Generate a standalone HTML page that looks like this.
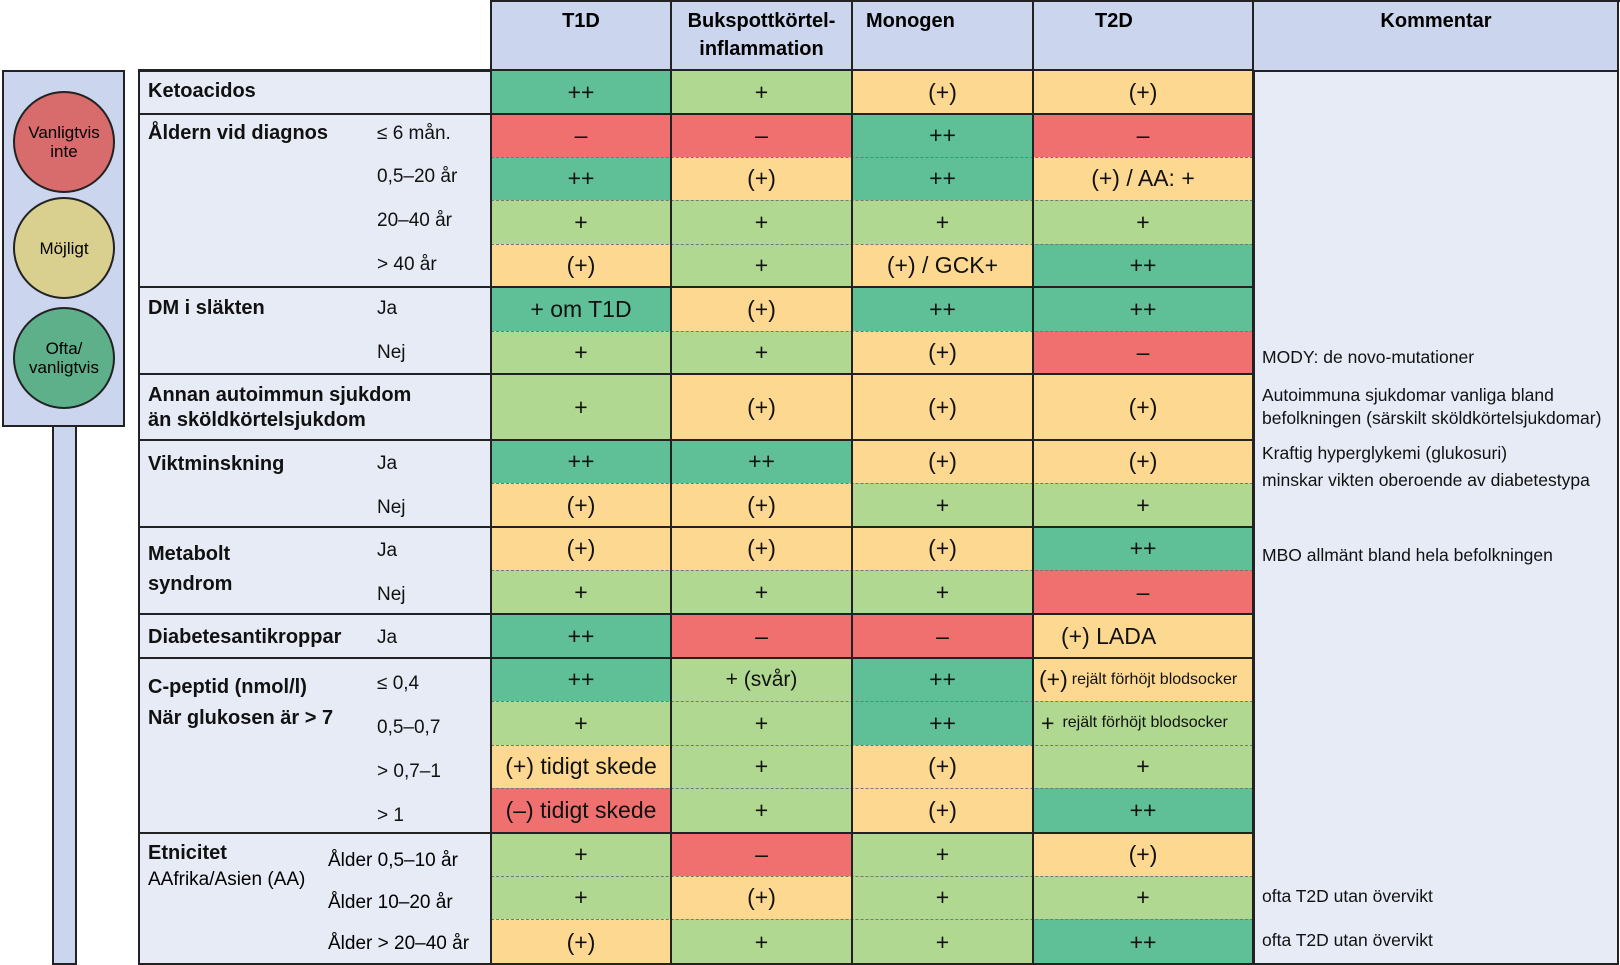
<!DOCTYPE html>
<html><head><meta charset="utf-8"><style>
body{margin:0;width:1620px;height:965px;background:#fff;position:relative;overflow:hidden;font-family:"Liberation Sans",sans-serif;}
div{position:absolute;box-sizing:border-box;}
.h{background:#cbd6ee;font-weight:bold;font-size:20px;text-align:center;line-height:28px;padding-top:6px;}
.c{display:flex;align-items:center;justify-content:center;font-size:23px;color:#111;}
.dg{background:#5fbf96}.lg{background:#b0d890}.y{background:#fdd891}.r{background:#f07070}
.lb{font-weight:bold;font-size:20px;left:148px;color:#111}
.sl{font-size:19px;left:377px;color:#111}
.cm{font-size:17.5px;left:1262px;color:#111;white-space:nowrap}
.sv{border-top:2px solid #222;height:0;}
.dv{border-top:1.5px dashed #777;height:0;}
.vl{width:2px;background:#222;}
.circ{border-radius:50%;border:2px solid #222;width:102px;height:102px;left:13px;display:flex;align-items:center;justify-content:center;text-align:center;font-size:17px;line-height:19px;}
</style></head><body>
<!-- traffic light -->
<div style="left:52px;top:424px;width:25px;height:541px;background:#cbd6ee;border:2px solid #222;"></div>
<div style="left:2px;top:70px;width:123px;height:357px;background:#cbd6ee;border:2px solid #222;"></div>
<div class="circ" style="top:91px;background:#d86b6b">Vanligtvis<br>inte</div>
<div class="circ" style="top:197px;background:#d9cf8e">Möjligt</div>
<div class="circ" style="top:307px;background:#5db08a">Ofta/<br>vanligtvis</div>

<!-- header -->
<div class="h" style="left:491px;top:1px;width:180px;height:70px;">T1D</div>
<div class="h" style="left:671px;top:1px;width:181px;height:70px;">Bukspottkörtel-<br>inflammation</div>
<div class="h" style="left:852px;top:1px;width:181px;height:70px;text-align:left;padding-left:14px">Monogen</div>
<div class="h" style="left:1033px;top:1px;width:220px;height:70px;text-align:left;padding-left:62px">T2D</div>
<div class="h" style="left:1253px;top:1px;width:366px;height:70px;">Kommentar</div>
<div style="left:490px;top:0;width:1130px;height:2px;background:#222"></div>

<!-- label panel & comment panel -->
<div style="left:138px;top:70px;width:354px;height:895px;background:#e6ebf6;border:2px solid #222;"></div>
<div style="left:1253px;top:70px;width:366px;height:895px;background:#e6ebf6;border:2px solid #222;"></div>

<!-- cells -->
<div class="c dg" style="left:491px;top:70px;width:180px;height:44px">++</div>
<div class="c lg" style="left:671px;top:70px;width:181px;height:44px">+</div>
<div class="c y" style="left:852px;top:70px;width:181px;height:44px">(+)</div>
<div class="c y" style="left:1033px;top:70px;width:220px;height:44px">(+)</div>

<div class="c r" style="left:491px;top:114px;width:180px;height:43px">–</div>
<div class="c r" style="left:671px;top:114px;width:181px;height:43px">–</div>
<div class="c dg" style="left:852px;top:114px;width:181px;height:43px">++</div>
<div class="c r" style="left:1033px;top:114px;width:220px;height:43px">–</div>

<div class="c dg" style="left:491px;top:157px;width:180px;height:43px">++</div>
<div class="c y" style="left:671px;top:157px;width:181px;height:43px">(+)</div>
<div class="c dg" style="left:852px;top:157px;width:181px;height:43px">++</div>
<div class="c y" style="left:1033px;top:157px;width:220px;height:43px">(+) / AA: +</div>

<div class="c lg" style="left:491px;top:200px;width:180px;height:44px">+</div>
<div class="c lg" style="left:671px;top:200px;width:181px;height:44px">+</div>
<div class="c lg" style="left:852px;top:200px;width:181px;height:44px">+</div>
<div class="c lg" style="left:1033px;top:200px;width:220px;height:44px">+</div>

<div class="c y" style="left:491px;top:244px;width:180px;height:43px">(+)</div>
<div class="c lg" style="left:671px;top:244px;width:181px;height:43px">+</div>
<div class="c y" style="left:852px;top:244px;width:181px;height:43px">(+) / GCK+</div>
<div class="c dg" style="left:1033px;top:244px;width:220px;height:43px">++</div>

<div class="c dg" style="left:491px;top:287px;width:180px;height:44px">+ om T1D</div>
<div class="c y" style="left:671px;top:287px;width:181px;height:44px">(+)</div>
<div class="c dg" style="left:852px;top:287px;width:181px;height:44px">++</div>
<div class="c dg" style="left:1033px;top:287px;width:220px;height:44px">++</div>

<div class="c lg" style="left:491px;top:331px;width:180px;height:43px">+</div>
<div class="c lg" style="left:671px;top:331px;width:181px;height:43px">+</div>
<div class="c y" style="left:852px;top:331px;width:181px;height:43px">(+)</div>
<div class="c r" style="left:1033px;top:331px;width:220px;height:43px">–</div>

<div class="c lg" style="left:491px;top:374px;width:180px;height:66px">+</div>
<div class="c y" style="left:671px;top:374px;width:181px;height:66px">(+)</div>
<div class="c y" style="left:852px;top:374px;width:181px;height:66px">(+)</div>
<div class="c y" style="left:1033px;top:374px;width:220px;height:66px">(+)</div>

<div class="c dg" style="left:491px;top:440px;width:180px;height:43px">++</div>
<div class="c dg" style="left:671px;top:440px;width:181px;height:43px">++</div>
<div class="c y" style="left:852px;top:440px;width:181px;height:43px">(+)</div>
<div class="c y" style="left:1033px;top:440px;width:220px;height:43px">(+)</div>

<div class="c y" style="left:491px;top:483px;width:180px;height:44px">(+)</div>
<div class="c y" style="left:671px;top:483px;width:181px;height:44px">(+)</div>
<div class="c lg" style="left:852px;top:483px;width:181px;height:44px">+</div>
<div class="c lg" style="left:1033px;top:483px;width:220px;height:44px">+</div>

<div class="c y" style="left:491px;top:527px;width:180px;height:43px">(+)</div>
<div class="c y" style="left:671px;top:527px;width:181px;height:43px">(+)</div>
<div class="c y" style="left:852px;top:527px;width:181px;height:43px">(+)</div>
<div class="c dg" style="left:1033px;top:527px;width:220px;height:43px">++</div>

<div class="c lg" style="left:491px;top:570px;width:180px;height:44px">+</div>
<div class="c lg" style="left:671px;top:570px;width:181px;height:44px">+</div>
<div class="c lg" style="left:852px;top:570px;width:181px;height:44px">+</div>
<div class="c r" style="left:1033px;top:570px;width:220px;height:44px">–</div>

<div class="c dg" style="left:491px;top:614px;width:180px;height:44px">++</div>
<div class="c r" style="left:671px;top:614px;width:181px;height:44px">–</div>
<div class="c r" style="left:852px;top:614px;width:181px;height:44px">–</div>
<div class="c y" style="left:1033px;top:614px;width:220px;height:44px;justify-content:flex-start;padding-left:28px">(+) LADA</div>

<div class="c dg" style="left:491px;top:658px;width:180px;height:43px">++</div>
<div class="c lg" style="left:671px;top:658px;width:181px;height:43px;font-size:21px">+ (svår)</div>
<div class="c dg" style="left:852px;top:658px;width:181px;height:43px">++</div>
<div class="c y" style="left:1033px;top:658px;width:220px;height:43px;justify-content:flex-start;padding-left:6px;white-space:nowrap"><span>(+)</span><span style="font-size:16px;margin-left:4px">rejält förhöjt blodsocker</span></div>

<div class="c lg" style="left:491px;top:701px;width:180px;height:44px">+</div>
<div class="c lg" style="left:671px;top:701px;width:181px;height:44px">+</div>
<div class="c dg" style="left:852px;top:701px;width:181px;height:44px">++</div>
<div class="c lg" style="left:1033px;top:701px;width:220px;height:44px;justify-content:flex-start;padding-left:8px;white-space:nowrap"><span>+</span><span style="font-size:16px;margin-left:8px">rejält förhöjt blodsocker</span></div>

<div class="c y" style="left:491px;top:745px;width:180px;height:43px">(+) tidigt skede</div>
<div class="c lg" style="left:671px;top:745px;width:181px;height:43px">+</div>
<div class="c y" style="left:852px;top:745px;width:181px;height:43px">(+)</div>
<div class="c lg" style="left:1033px;top:745px;width:220px;height:43px">+</div>

<div class="c r" style="left:491px;top:788px;width:180px;height:45px">(–) tidigt skede</div>
<div class="c lg" style="left:671px;top:788px;width:181px;height:45px">+</div>
<div class="c y" style="left:852px;top:788px;width:181px;height:45px">(+)</div>
<div class="c dg" style="left:1033px;top:788px;width:220px;height:45px">++</div>

<div class="c lg" style="left:491px;top:833px;width:180px;height:43px">+</div>
<div class="c r" style="left:671px;top:833px;width:181px;height:43px">–</div>
<div class="c lg" style="left:852px;top:833px;width:181px;height:43px">+</div>
<div class="c y" style="left:1033px;top:833px;width:220px;height:43px">(+)</div>

<div class="c lg" style="left:491px;top:876px;width:180px;height:43px">+</div>
<div class="c y" style="left:671px;top:876px;width:181px;height:43px">(+)</div>
<div class="c lg" style="left:852px;top:876px;width:181px;height:43px">+</div>
<div class="c lg" style="left:1033px;top:876px;width:220px;height:43px">+</div>

<div class="c y" style="left:491px;top:919px;width:180px;height:46px">(+)</div>
<div class="c lg" style="left:671px;top:919px;width:181px;height:46px">+</div>
<div class="c lg" style="left:852px;top:919px;width:181px;height:46px">+</div>
<div class="c dg" style="left:1033px;top:919px;width:220px;height:46px">++</div>

<!-- dashed inner lines -->
<div class="dv" style="left:491px;top:157px;width:762px"></div>
<div class="dv" style="left:491px;top:200px;width:762px"></div>
<div class="dv" style="left:491px;top:244px;width:762px"></div>
<div class="dv" style="left:491px;top:331px;width:762px"></div>
<div class="dv" style="left:491px;top:483px;width:762px"></div>
<div class="dv" style="left:491px;top:570px;width:762px"></div>
<div class="dv" style="left:491px;top:701px;width:762px"></div>
<div class="dv" style="left:491px;top:745px;width:762px"></div>
<div class="dv" style="left:491px;top:788px;width:762px"></div>
<div class="dv" style="left:491px;top:876px;width:762px"></div>
<div class="dv" style="left:491px;top:919px;width:762px"></div>

<!-- solid lines -->
<div class="sv" style="left:138px;top:69px;width:1116px"></div>
<div class="sv" style="left:138px;top:113px;width:1116px"></div>
<div class="sv" style="left:138px;top:286px;width:1116px"></div>
<div class="sv" style="left:138px;top:373px;width:1116px"></div>
<div class="sv" style="left:138px;top:439px;width:1116px"></div>
<div class="sv" style="left:138px;top:526px;width:1116px"></div>
<div class="sv" style="left:138px;top:613px;width:1116px"></div>
<div class="sv" style="left:138px;top:657px;width:1116px"></div>
<div class="sv" style="left:138px;top:832px;width:1116px"></div>
<div class="sv" style="left:138px;top:963px;width:1116px"></div>

<!-- vertical lines -->
<div class="vl" style="left:490px;top:0;height:965px"></div>
<div class="vl" style="left:670px;top:0;height:965px;width:1.5px"></div>
<div class="vl" style="left:851px;top:0;height:965px;width:1.5px"></div>
<div class="vl" style="left:1032px;top:0;height:965px;width:1.5px"></div>
<div class="vl" style="left:1252px;top:0;height:965px"></div>
<div class="vl" style="left:1617px;top:0;height:965px"></div>

<!-- labels -->
<div class="lb" style="top:80px">Ketoacidos</div>
<div class="lb" style="top:122px">Åldern vid diagnos</div>
<div class="sl" style="top:123px">≤ 6 mån.</div>
<div class="sl" style="top:166px">0,5–20 år</div>
<div class="sl" style="top:210px">20–40 år</div>
<div class="sl" style="top:254px">&gt; 40 år</div>
<div class="lb" style="top:297px">DM i släkten</div>
<div class="sl" style="top:298px">Ja</div>
<div class="sl" style="top:342px">Nej</div>
<div class="lb" style="top:383px;line-height:25px">Annan autoimmun sjukdom<br>än sköldkörtelsjukdom</div>
<div class="lb" style="top:453px">Viktminskning</div>
<div class="sl" style="top:453px">Ja</div>
<div class="sl" style="top:497px">Nej</div>
<div class="lb" style="top:539px;line-height:30px">Metabolt<br>syndrom</div>
<div class="sl" style="top:540px">Ja</div>
<div class="sl" style="top:584px">Nej</div>
<div class="lb" style="top:626px">Diabetesantikroppar</div>
<div class="sl" style="top:627px">Ja</div>
<div class="lb" style="top:672px;line-height:31px">C-peptid (nmol/l)<br>När glukosen är &gt; 7</div>
<div class="sl" style="top:673px">≤ 0,4</div>
<div class="sl" style="top:717px">0,5–0,7</div>
<div class="sl" style="top:761px">&gt; 0,7–1</div>
<div class="sl" style="top:805px">&gt; 1</div>
<div class="lb" style="top:842px">Etnicitet</div>
<div style="left:148px;top:869px;font-size:19px">AAfrika/Asien (AA)</div>
<div style="left:328px;top:850px;font-size:19px">Ålder 0,5–10 år</div>
<div style="left:328px;top:892px;font-size:19px">Ålder 10–20 år</div>
<div style="left:328px;top:933px;font-size:19px">Ålder &gt; 20–40 år</div>

<!-- comments -->
<div class="cm" style="top:347px">MODY: de novo-mutationer</div>
<div class="cm" style="top:385px">Autoimmuna sjukdomar vanliga bland</div>
<div class="cm" style="top:408px">befolkningen (särskilt sköldkörtelsjukdomar)</div>
<div class="cm" style="top:443px">Kraftig hyperglykemi (glukosuri)</div>
<div class="cm" style="top:470px">minskar vikten oberoende av diabetestypa</div>
<div class="cm" style="top:545px">MBO allmänt bland hela befolkningen</div>
<div class="cm" style="top:886px">ofta T2D utan övervikt</div>
<div class="cm" style="top:930px">ofta T2D utan övervikt</div>
</body></html>
